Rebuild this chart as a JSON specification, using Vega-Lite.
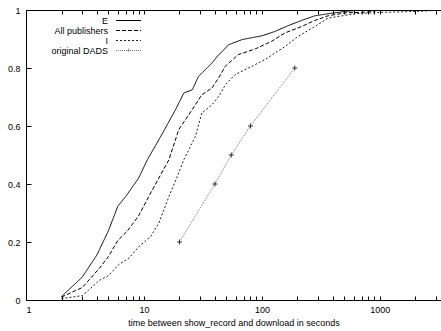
{
  "$schema": "https://vega.github.io/schema/vega-lite/v6.json",
  "width": 415,
  "height": 290,
  "autosize": "none",
  "padding": {"left": 26, "top": 10, "right": 0, "bottom": 31},
  "background": "white",
  "config": {
    "font": "Liberation Sans",
    "view": {"stroke": null},
    "axis": {
      "grid": false,
      "domainColor": "black",
      "domainWidth": 1,
      "tickColor": "black",
      "labelColor": "black",
      "titleColor": "black",
      "labelFontSize": 9,
      "titleFontSize": 9,
      "titleFontWeight": "normal",
      "labelFont": "Liberation Sans",
      "titleFont": "Liberation Sans"
    },
    "legend": {
      "symbolType": "M-5,0L5,0",
      "symbolSize": 25,
      "symbolStrokeWidth": 1,
      "symbolFillColor": "transparent",
      "labelAlign": "right",
      "labelFontSize": 9,
      "labelFont": "Liberation Sans",
      "labelColor": "black",
      "padding": 0
    }
  },
  "data": {
    "values": [
      {"series": "E", "t": 2, "p": 0.012},
      {"series": "E", "t": 3, "p": 0.079},
      {"series": "E", "t": 4, "p": 0.156},
      {"series": "E", "t": 5, "p": 0.239},
      {"series": "E", "t": 6, "p": 0.323},
      {"series": "E", "t": 7, "p": 0.357},
      {"series": "E", "t": 9, "p": 0.42},
      {"series": "E", "t": 10.7, "p": 0.484},
      {"series": "E", "t": 13.4, "p": 0.553},
      {"series": "E", "t": 18.5, "p": 0.656},
      {"series": "E", "t": 21.8, "p": 0.714},
      {"series": "E", "t": 25.7, "p": 0.725},
      {"series": "E", "t": 29, "p": 0.771},
      {"series": "E", "t": 37.7, "p": 0.817},
      {"series": "E", "t": 43, "p": 0.846},
      {"series": "E", "t": 45, "p": 0.852},
      {"series": "E", "t": 52, "p": 0.88},
      {"series": "E", "t": 68, "p": 0.898},
      {"series": "E", "t": 100, "p": 0.911},
      {"series": "E", "t": 129, "p": 0.926},
      {"series": "E", "t": 167, "p": 0.946},
      {"series": "E", "t": 217, "p": 0.964},
      {"series": "E", "t": 281, "p": 0.98},
      {"series": "E", "t": 364, "p": 0.987},
      {"series": "E", "t": 504, "p": 0.995},
      {"series": "E", "t": 700, "p": 1.0},
      {"series": "E", "t": 3300, "p": 1.0},
      {"series": "All publishers", "t": 2, "p": 0.01},
      {"series": "All publishers", "t": 3, "p": 0.043},
      {"series": "All publishers", "t": 4.2, "p": 0.11},
      {"series": "All publishers", "t": 5, "p": 0.15},
      {"series": "All publishers", "t": 6, "p": 0.205},
      {"series": "All publishers", "t": 7.2, "p": 0.237},
      {"series": "All publishers", "t": 9, "p": 0.29},
      {"series": "All publishers", "t": 11.4, "p": 0.369},
      {"series": "All publishers", "t": 16.3, "p": 0.484},
      {"series": "All publishers", "t": 19.7, "p": 0.587},
      {"series": "All publishers", "t": 24, "p": 0.639},
      {"series": "All publishers", "t": 31, "p": 0.708},
      {"series": "All publishers", "t": 37.7, "p": 0.731},
      {"series": "All publishers", "t": 43, "p": 0.766},
      {"series": "All publishers", "t": 49, "p": 0.806},
      {"series": "All publishers", "t": 63, "p": 0.846},
      {"series": "All publishers", "t": 88, "p": 0.866},
      {"series": "All publishers", "t": 121, "p": 0.892},
      {"series": "All publishers", "t": 157, "p": 0.921},
      {"series": "All publishers", "t": 217, "p": 0.943},
      {"series": "All publishers", "t": 281, "p": 0.964},
      {"series": "All publishers", "t": 364, "p": 0.98},
      {"series": "All publishers", "t": 504, "p": 0.99},
      {"series": "All publishers", "t": 792, "p": 0.993},
      {"series": "All publishers", "t": 1000, "p": 1.0},
      {"series": "All publishers", "t": 3300, "p": 1.0},
      {"series": "I", "t": 2, "p": 0.005},
      {"series": "I", "t": 3, "p": 0.015},
      {"series": "I", "t": 4.2, "p": 0.068},
      {"series": "I", "t": 5, "p": 0.084},
      {"series": "I", "t": 6.1, "p": 0.122},
      {"series": "I", "t": 7.5, "p": 0.145},
      {"series": "I", "t": 9, "p": 0.183},
      {"series": "I", "t": 11.4, "p": 0.219},
      {"series": "I", "t": 13.4, "p": 0.266},
      {"series": "I", "t": 16.3, "p": 0.357},
      {"series": "I", "t": 19.7, "p": 0.438},
      {"series": "I", "t": 21.8, "p": 0.484},
      {"series": "I", "t": 27.3, "p": 0.564},
      {"series": "I", "t": 31, "p": 0.645},
      {"series": "I", "t": 37.7, "p": 0.673},
      {"series": "I", "t": 43, "p": 0.702},
      {"series": "I", "t": 49, "p": 0.742},
      {"series": "I", "t": 59, "p": 0.777},
      {"series": "I", "t": 77, "p": 0.8},
      {"series": "I", "t": 106, "p": 0.829},
      {"series": "I", "t": 157, "p": 0.874},
      {"series": "I", "t": 203, "p": 0.909},
      {"series": "I", "t": 281, "p": 0.943},
      {"series": "I", "t": 364, "p": 0.972},
      {"series": "I", "t": 610, "p": 0.987},
      {"series": "I", "t": 1025, "p": 0.992},
      {"series": "I", "t": 2100, "p": 0.995},
      {"series": "I", "t": 3300, "p": 1.0},
      {"series": "original DADS", "t": 20, "p": 0.2},
      {"series": "original DADS", "t": 40, "p": 0.4},
      {"series": "original DADS", "t": 55, "p": 0.5},
      {"series": "original DADS", "t": 80, "p": 0.6},
      {"series": "original DADS", "t": 190, "p": 0.8}
    ]
  },
  "layer": [
    {
      "mark": {"type": "line", "strokeWidth": 1, "clip": true},
      "encoding": {
        "x": {
          "field": "t", "type": "quantitative",
          "scale": {"type": "log", "domain": [1, 3300], "nice": false},
          "axis": {
            "orient": "bottom",
            "title": "time between show_record and download in seconds",
            "values": [1,2,3,4,5,6,7,8,9,10,20,30,40,50,60,70,80,90,100,200,300,400,500,600,700,800,900,1000,2000,3000],
            "labelExpr": "(datum.value==1||datum.value==10||datum.value==100||datum.value==1000) ? format(datum.value,'d') : ''",
            "tickSize": -4,
            "labelPadding": 9,
            "titlePadding": 4
          }
        },
        "y": {
          "field": "p", "type": "quantitative",
          "scale": {"domain": [0, 1], "nice": false},
          "axis": {
            "title": null,
            "values": [0, 0.2, 0.4, 0.6, 0.8, 1],
            "format": ".1~f",
            "tickSize": -5,
            "labelPadding": 11
          }
        },
        "strokeDash": {
          "field": "series", "type": "nominal",
          "scale": {"domain": ["E", "All publishers", "I", "original DADS"], "range": [[1, 0], [4, 2], [2, 2], [1, 1]]},
          "legend": {
            "title": null,
            "orient": "none",
            "legendX": 98,
            "legendY": 6,
            "labelOffset": -25,
            "rowPadding": -1.3,
            "encode": {
              "symbols": {
                "update": {
                  "shape": {"signal": "datum.value === 'original DADS' ? 'M-5,0L5,0M0,-0.8L0,0.8M-0.8,0L0.8,0' : 'M-5,0L5,0'"}
                }
              }
            }
          }
        },
        "color": {
          "field": "series", "type": "nominal",
          "scale": {"domain": ["E", "All publishers", "I", "original DADS"], "range": ["#000000", "#000000", "#222222", "#777777"]},
          "legend": {
            "title": null,
            "orient": "none",
            "legendX": 98,
            "legendY": 6,
            "labelOffset": -25,
            "rowPadding": -1.3,
            "encode": {
              "symbols": {
                "update": {
                  "shape": {"signal": "datum.value === 'original DADS' ? 'M-5,0L5,0M0,-0.8L0,0.8M-0.8,0L0.8,0' : 'M-5,0L5,0'"}
                }
              }
            }
          }
        }
      }
    },
    {
      "transform": [{"filter": "datum.series === 'original DADS'"}],
      "mark": {"type": "point", "shape": "M-1,0L1,0M0,-1L0,1", "filled": false, "size": 25, "strokeWidth": 1, "color": "#333333", "opacity": 1},
      "encoding": {
        "x": {
          "field": "t", "type": "quantitative",
          "scale": {"type": "log", "domain": [1, 3300], "nice": false},
          "axis": {
            "orient": "top",
            "title": null,
            "labels": false,
            "values": [1,2,3,4,5,6,7,8,9,10,20,30,40,50,60,70,80,90,100,200,300,400,500,600,700,800,900,1000,2000,3000],
            "tickSize": -4
          }
        },
        "y": {"field": "p", "type": "quantitative"}
      }
    }
  ],
  "resolve": {"axis": {"x": "independent"}}
}
